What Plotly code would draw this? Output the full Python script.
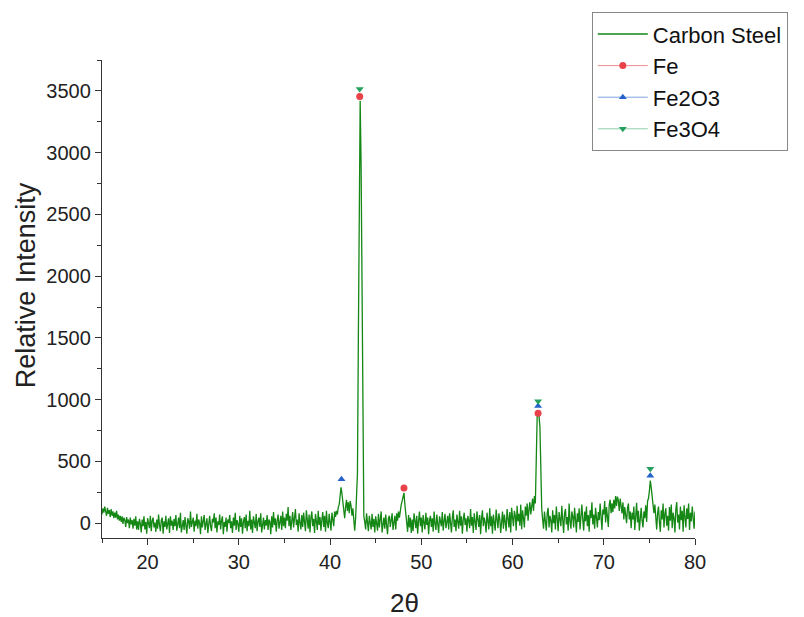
import plotly.graph_objects as go

# ---- Data ----
TWO_THETA_START = 15.0
TWO_THETA_STEP = 0.1

# Carbon steel diffractogram, one value per 0.1 deg from 15.0 to 80.0
INTENSITY = [
    70, 120, 85, 135, 95, 60, 125, 75, 105, 50, 115, 60, 95, 40, 85, 45, 100, 30, 70, 20,             # 15
    60, 10, 55, -5, 45, 25, -30, 50, 0, 30, -40, 45, -10, 25, -45, 35, -20, 55, -50, 15,              # 17
    -55, 35, -5, -75, 30, -25, 55, -50, 10, -85, 40, -10, -40, 60, -65, 20, 45, -35, 5, -70,          # 19
    30, -45, 70, -15, -65, 25, 45, -85, 15, -30, 60, -50, 10, 40, -80, 55, -20, 20, -55, 35,          # 21
    -25, 65, -60, 15, 45, -40, 85, -75, 5, 25, -55, 50, -20, -85, 40, 15, -45, 95, -30, 10,           # 23
    45, -70, 20, -25, 75, -45, 30, 0, -90, 55, -35, 15, 65, -55, -5, 40, -80, 25, 60, -25,            # 25
    -65, 35, 5, 80, -40, 45, -75, 15, -15, 70, -50, 20, 55, -90, 10, -30, 45, -70, 30, 0,             # 27
    65, -40, 15, -80, 45, -20, 85, -55, 25, -5, -70, 60, -30, 40, -85, 10, 50, -40, 70, -65,          # 29
    20, -25, 100, -50, 30, -80, 55, 5, -40, 75, -65, 15, 45, -30, 80, -75, 0, 45, -50, 25,            # 31
    -20, 65, -55, 30, 10, -90, 55, -35, 90, -15, 40, -70, 20, 70, -45, -5, 60, -55, 95, -25,          # 33
    45, -40, 75, 20, 130, -25, 60, -55, 30, 90, -35, 55, 115, -15, 30, -70, 80, 5, -50, 65,           # 35
    -30, 85, 10, -65, 105, 25, -45, 70, -75, 45, 95, -25, 35, -80, 75, 15, -55, 100, -15, 50,         # 37
    -60, 30, 90, -30, 60, -70, 100, 0, -40, 75, 20, -60, 85, 35, -25, 95, 50, 100, 70, 130,           # 39
    150, 220, 290, 240, 160, 90, 40, 130, 190, 100, 170, 80, 180, 140, 60, 120, 0, -60, 40, 180,      # 41
    400, 1500, 3000, 3420, 2900, 1600, 300, 60, 10, -50, 80, 5, -65, 60, 15, -50, 75, -30, 35, -75,   # 43
    55, -5, -60, 75, -35, 30, 95, -75, 15, 45, -45, 70, -20, -90, 40, 60, -30, 20, 80, -55,           # 45
    10, 60, -50, 80, 20, 95, 45, 120, 150, 180, 220, 245, 150, 50, 0, -70, 65, -35, 45, -80,          # 47
    30, -65, 80, 0, -40, 60, -85, 20, 95, -25, 45, -75, 65, 5, -50, 85, -15, 45, -90, 25,             # 49
    60, -30, 40, -70, 95, -5, -55, 70, 15, -80, 55, 25, -25, 90, -60, 20, 75, -40, 5, 60,             # 51
    -50, 80, 10, -75, 45, 105, -30, 30, -65, 70, 10, -45, 100, -20, 55, -85, 30, 85, -15, 40,         # 53
    -70, 60, 20, -40, 115, -20, 50, -80, 80, 10, -55, 95, 25, -30, 65, -90, 35, 105, -25, 45,         # 55
    5, -75, 85, 25, -50, 120, -25, 55, -85, 70, 15, -60, 110, -5, -40, 80, 35, -80, 60, 95,           # 57
    -45, 70, 10, -65, 115, 40, -35, 90, -75, 125, 25, -25, 100, 60, -60, 140, 15, 75, -20, 150,       # 59
    -50, 105, 40, -35, 135, 60, 160, 20, 110, 170, 70, 140, 200, 100, 220, 160, 520, 860, 885, 870,   # 61
    780, 400, 120, 30, -45, 95, 10, -60, 80, 125, -35, 60, 25, -75, 105, 0, 65, -50, 135, 15,         # 63
    -65, 90, 40, -25, 140, 25, -80, 75, 115, -10, 50, -60, 160, 15, -45, 95, 55, -35, 125, 30,        # 65
    -75, 80, 10, 120, -50, 55, 150, 25, -60, 95, 15, 135, -25, 65, -70, 105, 40, 170, -10, 70,        # 67
    -45, 125, 55, -35, 90, 25, 160, 45, -55, 110, 70, 180, 5, 130, 60, -30, 150, 190, 80, 160,        # 69
    90, 190, 120, 220, 140, 215, 180, 100, 200, 140, 80, 170, 30, 130, 60, 0, 120, 160, 30, 95,       # 71
    -40, 85, 30, 135, -55, 60, 165, 5, 100, -60, 75, 125, 20, -35, 95, 40, 145, 10, 180, 200,         # 73
    260, 345, 290, 200, 160, 80, 150, 30, -50, 80, 135, 10, -70, 105, 30, 160, -35, 75, 120, -20,     # 75
    60, -60, 130, 20, 150, -40, 85, 40, -75, 115, 170, 5, 70, -50, 135, 25, 100, -70, 145, 50,        # 77
    -35, 120, 35, 160, -55, 85, 15, 135, 50, -45, 95,                                                 # 79 - 80
]
TWO_THETA = [round(TWO_THETA_START + i * TWO_THETA_STEP, 2) for i in range(len(INTENSITY))]

FE_POS = [43.25, 48.1, 62.8]
FE_INT = [3455, 285, 890]
FE2O3_POS = [41.25, 62.8, 75.1]
FE2O3_INT = [356, 948, 385]
FE3O4_POS = [43.25, 62.8, 75.1]
FE3O4_INT = [3515, 988, 440]

X_TICKS = [20, 30, 40, 50, 60, 70, 80]
Y_TICKS = [0, 500, 1000, 1500, 2000, 2500, 3000, 3500]


def gapped(xs, ys):
    """Insert gaps so the markers are not joined by lines (legend keeps the line)."""
    gx, gy = [], []
    for x, y in zip(xs, ys):
        gx += [x, None]
        gy += [y, None]
    return gx[:-1], gy[:-1]


FONT = "Arial, 'Liberation Sans', sans-serif"

fig = go.Figure()
fig.add_trace(go.Scatter(
    x=TWO_THETA, y=INTENSITY, mode="lines", name="Carbon Steel",
    line=dict(color="#148714", width=1.3),
))

for name, xs, ys, sym, mcol, lcol in [
    ("Fe", FE_POS, FE_INT, "circle", "#e8424a", "#ef8a8f"),
    ("Fe2O3", FE2O3_POS, FE2O3_INT, "triangle-up", "#2563c9", "#7fa3de"),
    ("Fe3O4", FE3O4_POS, FE3O4_INT, "triangle-down", "#25a05e", "#8fd0ad"),
]:
    gx, gy = gapped(xs, ys)
    fig.add_trace(go.Scatter(
        x=gx, y=gy, mode="lines+markers", name=name, connectgaps=False,
        line=dict(color=lcol, width=1),
        marker=dict(symbol=sym, size=7, color=mcol),
    ))

axis_common = dict(
    showline=True, linecolor="#333333", linewidth=1.3,
    ticks="outside", ticklen=6, tickwidth=1.3, tickcolor="#333333",
    showgrid=False, zeroline=False, mirror=False,
    tickfont=dict(family=FONT, size=20, color="#222222"),
)

fig.update_layout(
    width=796, height=609,
    margin=dict(l=94, r=109, t=52, b=79, autoexpand=False),
    paper_bgcolor="white", plot_bgcolor="white",
    font=dict(family=FONT, color="#222222"),
    xaxis=dict(
        range=[15, 80], tickvals=X_TICKS,
        minor=dict(ticks="outside", ticklen=4, tickwidth=1.2, tickcolor="#333333", dtick=5, tick0=0),
        **axis_common,
    ),
    yaxis=dict(
        range=[-120, 3750], tickvals=Y_TICKS,
        minor=dict(ticks="outside", ticklen=4, tickwidth=1.2, tickcolor="#333333", dtick=250, tick0=0),
        **axis_common,
    ),
    annotations=[
        dict(text="Relative Intensity", textangle=-90, xref="paper", yref="paper",
             x=-0.128, y=0.529, xanchor="center", yanchor="middle", showarrow=False,
             font=dict(family=FONT, size=27, color="#222222")),
        dict(text="2θ", xref="paper", yref="paper",
             x=0.51, y=-0.136, xanchor="center", yanchor="middle", showarrow=False,
             font=dict(family=FONT, size=26, color="#222222")),
    ],
    legend=dict(
        x=0.826, y=1.1, xanchor="left", yanchor="top",
        bgcolor="white", bordercolor="#888888", borderwidth=1,
        font=dict(family=FONT, size=22, color="#111111"),
        tracegroupgap=0, itemwidth=50,
    ),
    showlegend=True,
)

fig.write_html("out.html")
